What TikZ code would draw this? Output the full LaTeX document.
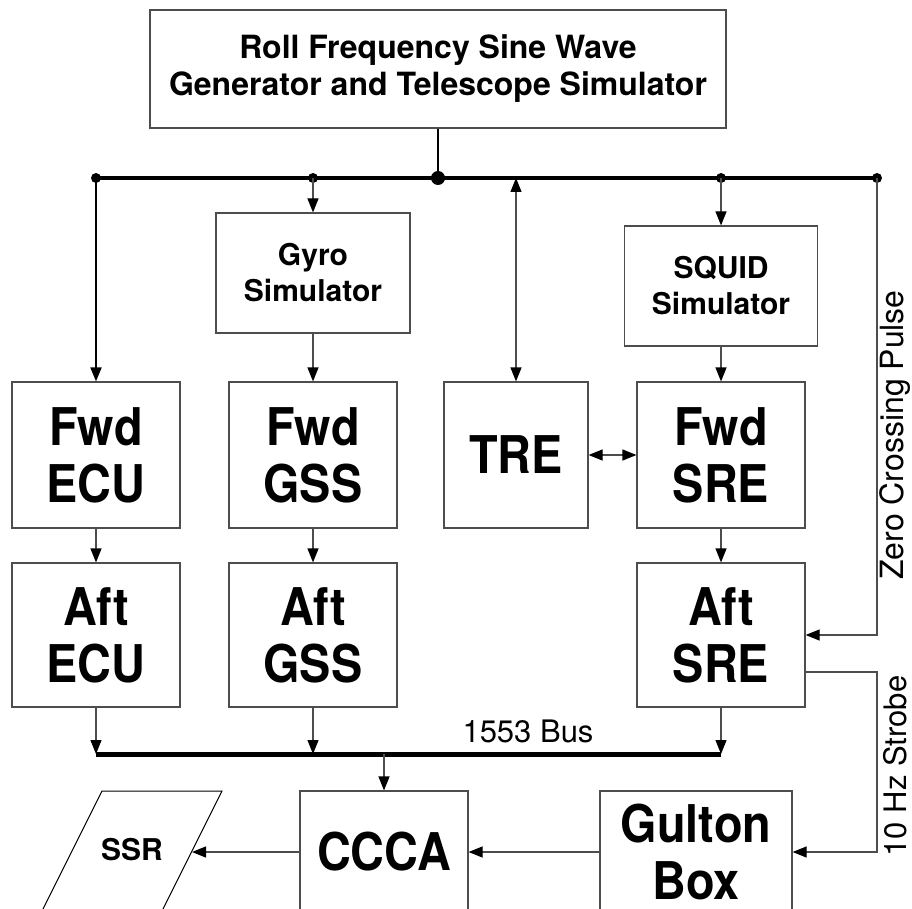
\documentclass[tikz,border=0pt]{standalone}
\usepackage{fontspec}
\setmainfont{TeX Gyre Heros}
\newfontfamily\gpnarrow[FakeStretch=0.9]{TeX Gyre Heros}
\usetikzlibrary{calc,arrows.meta}
\definecolor{gpInk}{HTML}{000000}
\definecolor{gpEdge}{HTML}{4D4D4D}

\begin{document}
\begin{tikzpicture}[
    x=1pt, y=-1pt,
    >={Triangle[length=14pt, width=11pt, color=gpInk]},
    gp box/.style={draw=gpEdge, line width=1.2pt, inner sep=0pt, align=center, text=gpInk},
    gp big/.style={gp box, font=\gpnarrow\bfseries\fontsize{52}{57}\selectfont},
    gp small/.style={gp box, font=\bfseries\fontsize{30}{36}\selectfont},
    gp wire/.style={draw=gpEdge, line width=1.2pt, ->},
    gp bus/.style={draw=gpInk, line width=3.3pt},
    gp dot/.style={fill=gpInk},
    gp label/.style={text=gpInk, font=\fontsize{31}{36}\selectfont, inner sep=0pt},
]
  \useasboundingbox (0,0) rectangle (912,909);

  % Blocos.
  \node[gp box, font=\bfseries\fontsize{32}{37}\selectfont, minimum width=576, minimum height=118] (gen) at (438,69) {Roll Frequency Sine Wave\\Generator and Telescope Simulator};
  \node[gp small, minimum width=194, minimum height=120] (gyro) at (313,273) {Gyro\\Simulator};
  \node[gp small, minimum width=193, minimum height=120] (squid) at (721,286) {SQUID\\Simulator};
  \node[gp big, minimum width=168, minimum height=146] (fwdecu) at (96,455) {Fwd\\ECU};
  \node[gp big, minimum width=168, minimum height=146] (fwdgss) at (313,455) {Fwd\\GSS};
  \node[gp big, minimum width=144, minimum height=146] (tre) at (516,455) {TRE};
  \node[gp big, minimum width=168, minimum height=146] (fwdsre) at (721,455) {Fwd\\SRE};
  \node[gp big, minimum width=168, minimum height=144] (aftecu) at (96,635) {Aft\\ECU};
  \node[gp big, minimum width=168, minimum height=144] (aftgss) at (313,635) {Aft\\GSS};
  \node[gp big, minimum width=168, minimum height=144] (aftsre) at (721,635) {Aft\\SRE};
  \node[gp big, minimum width=168, minimum height=122] (ccca) at (384,852) {CCCA};
  \node[gp big, minimum width=192, minimum height=122] (gulton) at (696,852) {Gulton\\Box};
  \node[gp label, font=\bfseries\fontsize{30}{36}\selectfont] (ssr) at (132,850) {SSR};
  \draw[draw=gpInk, line width=1pt] (32.5,930) -- (102,791) -- (222,791) -- (152.5,930);

  % Pontos dos barramentos.
  \coordinate (s-ecu) at (96,178);
  \coordinate (s-gyro) at (313,178);
  \coordinate (s-gen) at (438,178);
  \coordinate (s-tre) at (516,178);
  \coordinate (s-squid) at (721,178);
  \coordinate (s-zero) at (877,178);
  \coordinate (b-ecu) at (96,754);
  \coordinate (b-gss) at (313,754);
  \coordinate (b-ccca) at (384,754);
  \coordinate (b-sre) at (721,754);
  \coordinate (strobe-out) at ($(aftsre.east)+(0,37)$);
  \coordinate (strobe-k) at (877,672);
  \coordinate (ssr-in) at (192,852);

  % Barramentos.
  \draw[gp bus] (s-ecu) -- (s-zero);
  \draw[gp bus, line width=2.6pt] (gen.south) -- (s-gen);
  \draw[gp bus, line width=5pt] (b-ecu) -- (b-sre);
  \fill[gp dot] (s-gen) circle[radius=7];
  \fill[gp dot] (s-ecu) circle[radius=5];
  \fill[gp dot] (s-gyro) circle[radius=5];
  \fill[gp dot] (s-squid) circle[radius=5];
  \fill[gp dot] (s-zero) circle[radius=5];

  % Ligações.
  \draw[gp wire, draw=gpInk, line width=2pt] (s-ecu) -- (fwdecu);
  \draw[gp wire] (s-gyro) -- (gyro);
  \draw[gp wire, <->] (s-tre) -- (tre);
  \draw[gp wire] (s-squid) -- (squid);
  \draw[gp wire] (gyro) -- (fwdgss);
  \draw[gp wire] (squid) -- (fwdsre);
  \draw[gp wire, <->] (tre) -- (fwdsre);
  \draw[gp wire] (fwdecu) -- (aftecu);
  \draw[gp wire] (fwdgss) -- (aftgss);
  \draw[gp wire] (fwdsre) -- (aftsre);
  \draw[gp wire] (aftecu) -- (b-ecu);
  \draw[gp wire] (aftgss) -- (b-gss);
  \draw[gp wire] (aftsre) -- (b-sre);
  \draw[gp wire] (b-ccca) -- (ccca);
  \draw[gp wire] (s-zero) |- (aftsre.east);
  \draw[gp wire] (strobe-out) -- (strobe-k) |- (gulton.east);
  \draw[gp wire] (gulton) -- (ccca);
  \draw[gp wire] (ccca) -- (ssr-in);

  % Rótulos.
  \node[gp label, anchor=base] (buslabel) at (528,742) {1553 Bus};
  \node[gp label, rotate=90, font=\fontsize{32}{36}\selectfont] (zerolabel) at (895,435) {Zero Crossing Pulse};
  \node[gp label, rotate=90] (strobelabel) at (895,766) {10 Hz Strobe};
\end{tikzpicture}
\end{document}
